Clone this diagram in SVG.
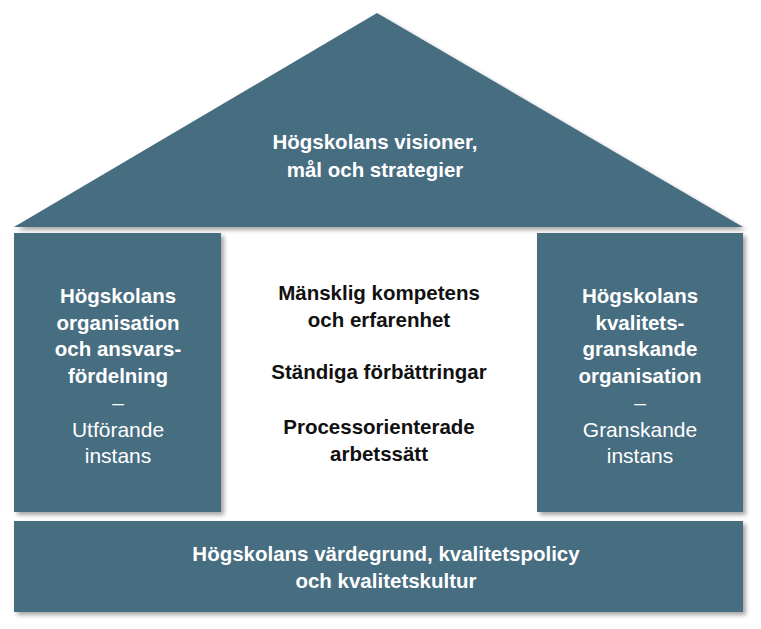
<svg xmlns="http://www.w3.org/2000/svg" width="761" height="629" viewBox="0 0 761 629">
  <defs>
    <filter id="sh" x="-5%" y="-5%" width="115%" height="120%">
      <feDropShadow dx="3" dy="3" stdDeviation="2" flood-color="#000" flood-opacity="0.35"/>
    </filter>
  </defs>
  <style>
    .blk { fill: #466d81; filter: url(#sh); }
    .t { font-family: "Liberation Sans", Arial, sans-serif; font-size: 20.5px; text-anchor: middle; }
    .w { fill: #ffffff; }
    .b { font-weight: bold; }
    .r { font-weight: normal; font-size: 21px; }
    .k { fill: #111111; }
  </style>
  <rect width="761" height="629" fill="#ffffff"/>
  <g id="roof">
    <polygon class="blk" points="14,227 377,13 743,227"/>
    <text class="t w b" x="375" y="149">Högskolans visioner,</text>
    <text class="t w b" x="375" y="177">mål och strategier</text>
  </g>
  <g id="left-pillar">
    <rect class="blk" x="14" y="233" width="207" height="279"/>
    <text class="t w b" x="118" y="303">Högskolans</text>
    <text class="t w b" x="118" y="330">organisation</text>
    <text class="t w b" x="118" y="356">och ansvars-</text>
    <text class="t w b" x="118" y="383">fördelning</text>
    <text class="t w r" x="118" y="410">–</text>
    <text class="t w r" x="118" y="437">Utförande</text>
    <text class="t w r" x="118" y="463">instans</text>
  </g>
  <g id="center">
    <text class="t k b" x="379" y="300">Mänsklig kompetens</text>
    <text class="t k b" x="379" y="327">och erfarenhet</text>
    <text class="t k b" x="379" y="379">Ständiga förbättringar</text>
    <text class="t k b" x="379" y="434">Processorienterade</text>
    <text class="t k b" x="379" y="461">arbetssätt</text>
  </g>
  <g id="right-pillar">
    <rect class="blk" x="537" y="233" width="206" height="279"/>
    <text class="t w b" x="640" y="303">Högskolans</text>
    <text class="t w b" x="640" y="330">kvalitets-</text>
    <text class="t w b" x="640" y="356">granskande</text>
    <text class="t w b" x="640" y="383">organisation</text>
    <text class="t w r" x="640" y="410">–</text>
    <text class="t w r" x="640" y="437">Granskande</text>
    <text class="t w r" x="640" y="463">instans</text>
  </g>
  <g id="base">
    <rect class="blk" x="14" y="521" width="729" height="91"/>
    <text class="t w b" x="386" y="561">Högskolans värdegrund, kvalitetspolicy</text>
    <text class="t w b" x="386" y="588">och kvalitetskultur</text>
  </g>
  <g id="connectors"/>
</svg>
